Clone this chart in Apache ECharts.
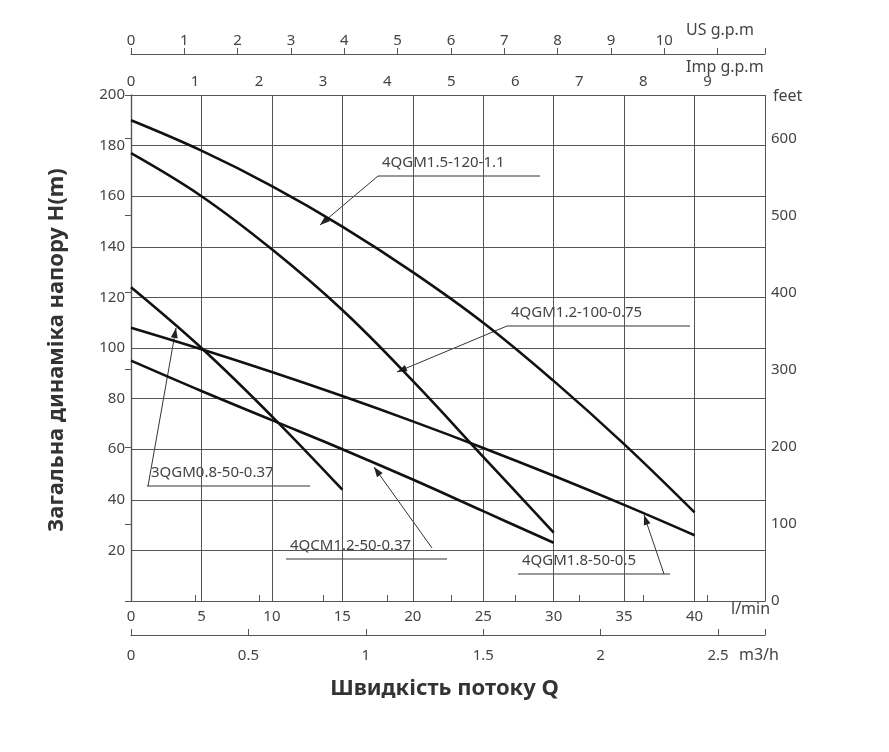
<!DOCTYPE html>
<html><head><meta charset="utf-8">
<script src="https://cdn.jsdelivr.net/npm/echarts@6/dist/echarts.min.js"></script>
<style>html,body{margin:0;background:#fff}#c{width:889px;height:752px}</style>
</head><body><div id="c"></div>
<script>
const s_4QGM15_120 = [[0,190],[5,178],[10,164],[15,148],[20,130],[25,110],[30,87],[35,62],[40,35]];
const s_4QGM12_100 = [[0,177],[5,160],[10,139],[15,115],[20,87],[25,57],[30,27]];
const s_3QGM08_50 = [[0,124],[5,100],[10,73],[15,44]];
const s_4QGM18_50 = [[0,108],[5,99.5],[10,90.5],[15,81],[20,71],[25,60.5],[30,49.5],[35,38],[40,26]];
const s_4QGM12_50 = [[0,95],[5,83],[10,71.5],[15,60],[20,48],[25,35.5],[30,23]];
const seriesNames = ['4QGM1.5-120-1.1','4QGM1.2-100-0.75','3QGM0.8-50-0.37','4QGM1.8-50-0.5','4QCM1.2-50-0.37'];
const labels = [
  {t:'4QGM1.5-120-1.1', x:378, y:165, w:162, from:[378,176], to:[320,225]},
  {t:'4QGM1.2-100-0.75', x:507, y:315, w:183, from:[507,326], to:[397,372]},
  {t:'3QGM0.8-50-0.37', x:147, y:475, w:163, from:[148,486], to:[176,328]},
  {t:'4QCM1.2-50-0.37', x:286, y:548, w:161, from:[432,548], to:[374,467]},
  {t:'4QGM1.8-50-0.5', x:518, y:563, w:152, from:[664,574], to:[644,515]}
];
const axisNames = [
  {t:'US g.p.m', x:686, y:22}, {t:'Imp g.p.m', x:686, y:59}, {t:'feet', x:773, y:88},
  {t:'l/min', x:731, y:601}, {t:'m3/h', x:739, y:647}
];
const F = 'Noto Sans', C = '#444';
const chart = echarts.init(document.getElementById('c'));
const gfx = [];
labels.forEach(l=>{
  gfx.push({type:'text', left:l.x+4, top:l.y-10, style:{text:l.t, font:'15px "Noto Sans"', fill:C}});
  gfx.push({type:'line', shape:{x1:l.x, y1:l.y+11, x2:l.x+l.w, y2:l.y+11}, style:{stroke:'#333', lineWidth:1}});
  gfx.push({type:'line', shape:{x1:l.from[0], y1:l.from[1], x2:l.to[0], y2:l.to[1]}, style:{stroke:'#333', lineWidth:1}});
  const dx=l.to[0]-l.from[0], dy=l.to[1]-l.from[1], d=Math.hypot(dx,dy), ux=dx/d, uy=dy/d;
  const L=10, W=3.5;
  gfx.push({type:'polygon', shape:{points:[[l.to[0],l.to[1]],[l.to[0]-ux*L-uy*W,l.to[1]-uy*L+ux*W],[l.to[0]-ux*L+uy*W,l.to[1]-uy*L-ux*W]]}, style:{fill:'#222'}});
});
axisNames.forEach(a=>gfx.push({type:'text', left:a.x, top:a.y, style:{text:a.t, font:'16px "Noto Sans"', fill:C}}));
gfx.push({type:'text', left:'center', top:678, style:{text:'Швидкість потоку Q', font:'bold 22px "Noto Sans"', fill:'#333'}});
gfx.push({type:'text', x:57, y:350, rotation:Math.PI/2, style:{text:'Загальна динаміка напору H(m)', font:'bold 22px "Noto Sans"', fill:'#333', align:'center', verticalAlign:'middle'}});
const lab = {color:C, fontFamily:F, fontSize:15};
const ax = {lineStyle:{color:'#555', width:1.2}};
const mk = (name,data)=>({name, type:'line', data, smooth:0.4, symbol:'none', lineStyle:{color:'#111', width:2.6}, xAxisIndex:0, yAxisIndex:0});
chart.setOption({
  animation:false,
  grid:{left:131, right:124, top:95, bottom:151},
  xAxis:[
    {type:'value', min:0, max:45, interval:5, position:'bottom', axisLine:{show:true,...ax}, axisTick:{show:false},
     axisLabel:{...lab, formatter:v=>v>40?'':v, margin:8}, splitLine:{show:true, lineStyle:{color:'#555'}}},
    {type:'value', min:0, max:45*0.219969, interval:1, position:'top', axisLine:{show:true,...ax}, axisTick:{show:true, length:6, lineStyle:{color:'#555'}},
     axisLabel:{...lab, formatter:v=>v>9?'':v, margin:6}, splitLine:{show:false}},
    {type:'value', min:0, max:45*0.264172, interval:1, position:'top', offset:41, axisLine:{show:true,...ax}, axisTick:{show:true, length:6, lineStyle:{color:'#555'}},
     axisLabel:{...lab, formatter:v=>v>10?'':v, margin:6}, splitLine:{show:false}},
    {type:'value', min:0, max:2.7, interval:0.5, position:'bottom', offset:34, axisLine:{show:true,...ax}, axisTick:{show:true, inside:true, length:6, lineStyle:{color:'#555'}},
     axisLabel:{...lab, margin:13, formatter:v=>v>2.5?'':v}, splitLine:{show:false}}
  ],
  yAxis:[
    {type:'value', min:0, max:200, interval:20, position:'left', axisLine:{show:true,...ax}, axisTick:{show:false},
     axisLabel:{...lab, formatter:v=>v===0?'':v, margin:6}, splitLine:{show:true, lineStyle:{color:'#555'}}},
    {type:'value', min:0, max:200/0.3048, interval:100, position:'right', axisLine:{show:true,...ax}, axisTick:{show:true, inside:true, length:6, lineStyle:{color:'#555'}},
     axisLabel:{...lab, formatter:v=>v>600?'':v, margin:6}, splitLine:{show:false}}
  ],
  series:[mk(seriesNames[0],s_4QGM15_120), mk(seriesNames[1],s_4QGM12_100), mk(seriesNames[2],s_3QGM08_50), mk(seriesNames[3],s_4QGM18_50), mk(seriesNames[4],s_4QGM12_50)],
  graphic:gfx
});
</script></body></html>
